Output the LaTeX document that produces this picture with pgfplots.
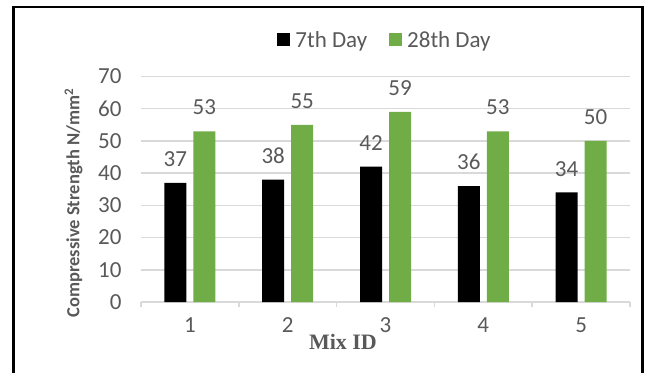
\documentclass[border=0pt]{standalone}
\usepackage{pgfplots}
\pgfplotsset{compat=1.18}
\usepackage{fontspec}
\setmainfont{Carlito}
\newfontfamily\tnr{Liberation Serif}
\definecolor{barGreen}{HTML}{70AD47}
\definecolor{txtGray}{HTML}{595959}
\definecolor{gridGray}{HTML}{D9D9D9}
\begin{document}
\begin{tikzpicture}[x=1bp,y=1bp]
\useasboundingbox (0,0) rectangle (649,373);
\draw[line width=2.5bp] (13.5,0) -- (13.5,366) -- (642.5,366) -- (642.5,0);
\begin{axis}[
  at={(141bp,71bp)}, anchor=south west,
  scale only axis, width=489bp, height=225.5bp,
  xmin=0.5, xmax=5.5, ymin=0, ymax=70,
  ybar=7bp, bar width=22bp,
  xtick={1,2,3,4,5},
  minor xtick={0.5,1.5,...,5.5},
  major tick length=0pt, minor tick length=5bp,
  tick align=outside,
  ytick={0,10,...,70},
  ymajorgrids, grid style={gridGray, line width=1.5bp},
  minor x tick style={gridGray, line width=1.5bp},
  axis x line*=bottom, axis y line*=left,
  x axis line style={gridGray, line width=1.5bp},
  y axis line style={draw=none},
  /pgf/number format/assume math mode=true,
  ticklabel style={font=\fontsize{23bp}{25bp}\selectfont, text=txtGray},
  xticklabel style={yshift=-12bp},
  yticklabel style={xshift=-16bp},
  ylabel={Compressive Strength N/mm\textsuperscript{2}},
  ylabel style={at={(axis description cs:-0.138,0.439)}, anchor=center, font=\fontsize{18.5bp}{20bp}\selectfont\bfseries, text=txtGray},
  xlabel={Mix ID},
  xlabel style={at={(axis description cs:0.413,-0.177)}, anchor=center, font=\fontsize{22bp}{24bp}\selectfont\tnr\bfseries, text=txtGray},
  nodes near coords,
  every node near coord/.append style={font=\fontsize{23bp}{25bp}\selectfont, text=txtGray, anchor=south, inner sep=0pt, yshift=16bp},
  legend columns=2,
  legend style={at={(0.499,1.162)}, anchor=center, draw=none, fill=none,
    font=\fontsize{23bp}{25bp}\selectfont, text=txtGray,
    /tikz/every odd column/.append style={column sep=3bp},
    /tikz/every even column/.append style={column sep=20bp}},
  legend image code/.code={\fill[#1,draw=none] (0bp,-6.5bp) rectangle (13bp,6.5bp);},
]
\addplot[fill=black, draw=none] coordinates {(1,37) (2,38) (3,42) (4,36) (5,34)};
\addplot[fill=barGreen, draw=none] coordinates {(1,53) (2,55) (3,59) (4,53) (5,50)};
\legend{7th Day, 28th Day}
\end{axis}
\end{tikzpicture}
\end{document}
